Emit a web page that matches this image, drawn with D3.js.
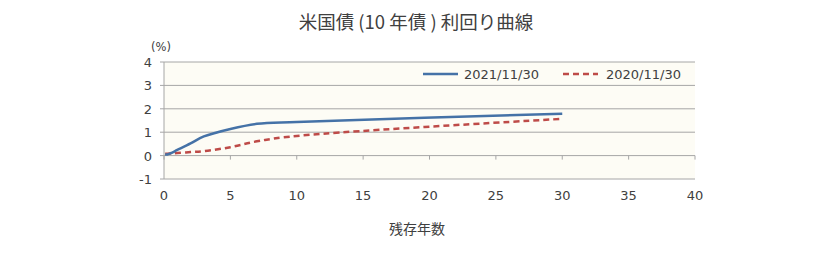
<!DOCTYPE html>
<html>
<head>
<meta charset="utf-8">
<script src="https://cdn.jsdelivr.net/npm/d3@7"></script>
<style>
body { margin: 0; background: #fff; }
</style>
</head>
<body>
<div id="chart-area"></div>
<script>
// maturities in years
var maturities = [1/12, 0.25, 0.5, 1, 2, 3, 5, 7, 10, 30];
var series2021 = [0.05, 0.05, 0.10, 0.24, 0.52, 0.82, 1.14, 1.36, 1.44, 1.79];
var series2020 = [0.08, 0.08, 0.09, 0.11, 0.15, 0.19, 0.36, 0.61, 0.84, 1.57];
var seriesNames = ["2021/11/30", "2020/11/30"];
var xTicks = [0, 5, 10, 15, 20, 25, 30, 35, 40];
var yTicks = [-1, 0, 1, 2, 3, 4];

var latin = "'DejaVu Sans', Verdana, sans-serif";
var jp = "'Noto Sans CJK JP', sans-serif";
var textColor = "#404040";

var margin = { left: 164, right: 138, top: 62, bottom: 79 };
var width = 833 - margin.left - margin.right,
    height = 258 - margin.top - margin.bottom;

var svg = d3.select("#chart-area").append("svg")
    .attr("width", 833)
    .attr("height", 258);

var g = svg.append("g").attr("transform", "translate(" + margin.left + "," + margin.top + ")");

var x = d3.scaleLinear().domain([0, 40]).range([0, width]);
var y = d3.scaleLinear().domain([-1, 4]).range([height, 0]);

// plot background
g.append("rect")
    .attr("width", width)
    .attr("height", height)
    .attr("fill", "#fdfcf5");

// gridlines + y labels
yTicks.forEach(function(t) {
    g.append("line")
        .attr("x1", -4).attr("x2", width)
        .attr("y1", y(t)).attr("y2", y(t))
        .attr("stroke", "#a6a6a6").attr("stroke-width", 1);
    g.append("text")
        .attr("x", -12)
        .attr("y", y(t) + 5)
        .attr("text-anchor", "end")
        .attr("font-family", latin)
        .attr("font-size", "13px")
        .attr("fill", textColor)
        .text(t);
});

// left axis line
g.append("line")
    .attr("x1", 0).attr("x2", 0)
    .attr("y1", 0).attr("y2", height)
    .attr("stroke", "#a6a6a6");

// x ticks on the zero line
xTicks.forEach(function(t) {
    g.append("line")
        .attr("x1", x(t)).attr("x2", x(t))
        .attr("y1", y(0)).attr("y2", y(0) + 4)
        .attr("stroke", "#a6a6a6");
    g.append("text")
        .attr("x", x(t))
        .attr("y", height + 21)
        .attr("text-anchor", "middle")
        .attr("font-family", latin)
        .attr("font-size", "13px")
        .attr("fill", textColor)
        .text(t);
});

var line = d3.line()
    .x(function(d) { return x(d[0]); })
    .y(function(d) { return y(d[1]); })
    .curve(d3.curveCatmullRom.alpha(0.5));

g.append("path")
    .datum(d3.zip(maturities, series2020))
    .attr("fill", "none")
    .attr("stroke", "#be4b48")
    .attr("stroke-width", 2.5)
    .attr("stroke-dasharray", "6,4")
    .attr("d", line);

g.append("path")
    .datum(d3.zip(maturities, series2021))
    .attr("fill", "none")
    .attr("stroke", "#4572a7")
    .attr("stroke-width", 2.5)
    .attr("d", line);

// legend
var legend = svg.append("g")
    .attr("font-family", latin)
    .attr("font-size", "13px")
    .attr("fill", textColor);
legend.append("line")
    .attr("x1", 423).attr("x2", 458).attr("y1", 74).attr("y2", 74)
    .attr("stroke", "#4572a7").attr("stroke-width", 2.5);
legend.append("text")
    .attr("x", 464).attr("y", 79)
    .text(seriesNames[0]);
legend.append("line")
    .attr("x1", 563).attr("x2", 598).attr("y1", 74).attr("y2", 74)
    .attr("stroke", "#be4b48").attr("stroke-width", 2.5)
    .attr("stroke-dasharray", "6,4");
legend.append("text")
    .attr("x", 606).attr("y", 79)
    .text(seriesNames[1]);

// title
svg.append("text")
    .attr("x", 416).attr("y", 29)
    .attr("text-anchor", "middle")
    .attr("font-family", jp)
    .attr("font-size", "18.5px")
    .attr("fill", textColor)
    .text("米国債 (10 年債 ) 利回り曲線");

svg.append("text")
    .attr("x", 161).attr("y", 51)
    .attr("text-anchor", "middle")
    .attr("font-family", latin)
    .attr("font-size", "11.5px")
    .attr("fill", textColor)
    .text("(%)");

svg.append("text")
    .attr("x", 417).attr("y", 234)
    .attr("text-anchor", "middle")
    .attr("font-family", jp)
    .attr("font-size", "14px")
    .attr("fill", textColor)
    .text("残存年数");
</script>
</body>
</html>
